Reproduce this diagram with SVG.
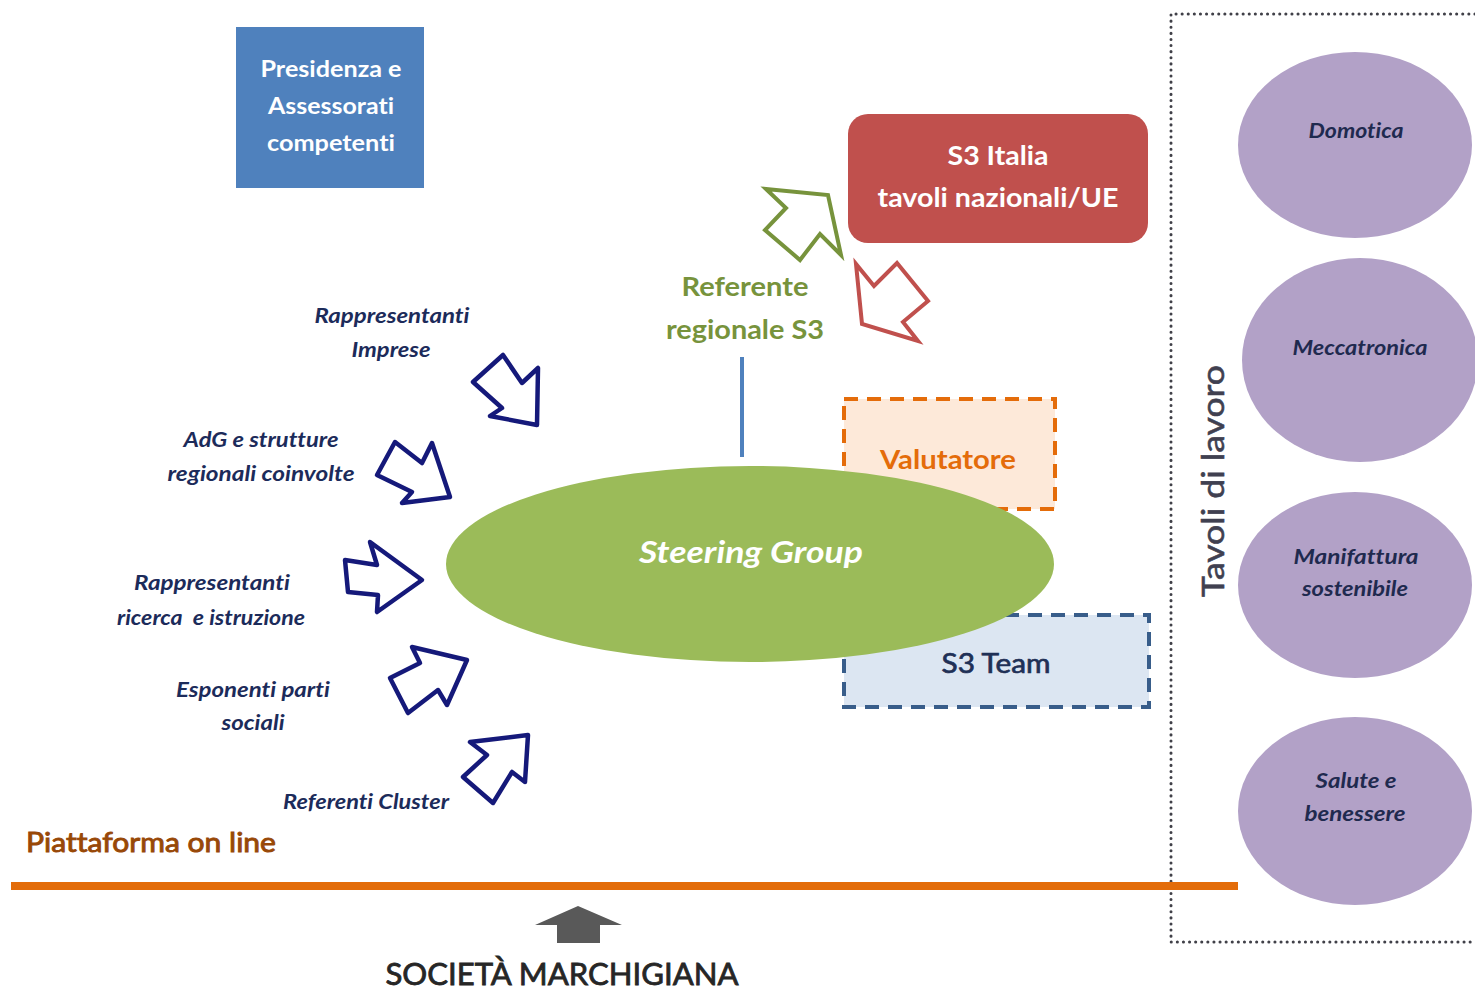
<svg xmlns="http://www.w3.org/2000/svg" width="1475" height="990" viewBox="0 0 1475 990">
<style>
text{font-family:Lato,"Open Sans","Liberation Sans",sans-serif;text-anchor:middle;font-variant-ligatures:none;font-feature-settings:"liga" 0}
.lbl{font-size:20px;font-weight:bold;font-style:italic;fill:#1c2b5a}
.tav{font-size:20px;font-weight:bold;font-style:italic;fill:#1f2a4f}
.purple{fill:#b2a1c7}
.barrow{fill:#fff;stroke:#15197a;stroke-width:4.5;stroke-linejoin:round}
</style>
<rect width="1475" height="990" fill="#fff"/>

<g id="presidenza">
<rect x="236" y="27" width="188" height="161" fill="#4f81bd"/>
<text x="331" y="77" font-size="22" font-weight="bold" fill="#fff" textLength="141" lengthAdjust="spacingAndGlyphs">Presidenza e</text>
<text x="331" y="114" font-size="22" font-weight="bold" fill="#fff" textLength="126" lengthAdjust="spacingAndGlyphs">Assessorati</text>
<text x="331" y="151" font-size="22" font-weight="bold" fill="#fff" textLength="128" lengthAdjust="spacingAndGlyphs">competenti</text>
</g>

<g id="s3italia">
<rect x="848" y="114" width="300" height="129" rx="20" fill="#c0504d"/>
<text x="998" y="165" font-size="27" font-weight="bold" fill="#fff" textLength="101" lengthAdjust="spacingAndGlyphs">S3 Italia</text>
<text x="998" y="207" font-size="27" font-weight="bold" fill="#fff" textLength="241" lengthAdjust="spacingAndGlyphs">tavoli nazionali/UE</text>
</g>

<g id="referente">
<text x="745" y="296" font-size="27" font-weight="bold" fill="#77933c" textLength="127" lengthAdjust="spacingAndGlyphs">Referente</text>
<text x="745" y="339" font-size="27" font-weight="bold" fill="#77933c" textLength="158" lengthAdjust="spacingAndGlyphs">regionale S3</text>
</g>

<g id="valutatore">
<rect x="844" y="399" width="211" height="110" fill="#fde9d9" stroke="#e46c0a" stroke-width="4" stroke-dasharray="14 9"/>
<text x="948" y="469" font-size="27" font-weight="bold" fill="#e46c0a" textLength="136" lengthAdjust="spacingAndGlyphs">Valutatore</text>
</g>

<g id="s3team">
<rect x="844" y="615" width="305" height="92" fill="#dce6f2" stroke="#385d8a" stroke-width="4" stroke-dasharray="14 9"/>
<text x="996" y="673" font-size="27" fill="#1f3056" stroke="#1f3056" stroke-width="0.7" textLength="109" lengthAdjust="spacingAndGlyphs">S3 Team</text>
</g>

<g id="steering">
<ellipse cx="750" cy="564" rx="304" ry="98" fill="#9bbb59"/>
<text x="751" y="563" font-size="30" font-weight="bold" font-style="italic" fill="#fff" textLength="224" lengthAdjust="spacingAndGlyphs">Steering Group</text>
</g>

<g id="labels">
<text class="lbl" x="392" y="323" textLength="155" lengthAdjust="spacingAndGlyphs">Rappresentanti</text>
<text class="lbl" x="391" y="357" textLength="79" lengthAdjust="spacingAndGlyphs">Imprese</text>
<text class="lbl" x="261" y="447" textLength="155" lengthAdjust="spacingAndGlyphs">AdG e strutture</text>
<text class="lbl" x="261" y="481" textLength="187" lengthAdjust="spacingAndGlyphs">regionali coinvolte</text>
<text class="lbl" x="212" y="590" textLength="156" lengthAdjust="spacingAndGlyphs">Rappresentanti</text>
<text class="lbl" x="211" y="625" textLength="188" lengthAdjust="spacingAndGlyphs" xml:space="preserve">ricerca  e istruzione</text>
<text class="lbl" x="253" y="697" textLength="154" lengthAdjust="spacingAndGlyphs">Esponenti parti</text>
<text class="lbl" x="253" y="730" textLength="63" lengthAdjust="spacingAndGlyphs">sociali</text>
<text class="lbl" x="366" y="809" textLength="166" lengthAdjust="spacingAndGlyphs">Referenti Cluster</text>
</g>

<g id="tavoli">
<path d="M1475 14 H1171 V942 H1475" fill="none" stroke="#404048" stroke-width="3" stroke-dasharray="0.1 6" stroke-linecap="round"/>
<text x="0" y="0" transform="translate(1224 481) rotate(-90)" font-size="31" fill="#404050" stroke="#404050" stroke-width="0.6" textLength="232" lengthAdjust="spacingAndGlyphs">Tavoli di lavoro</text>
</g>

<g id="domotica">
<ellipse class="purple" cx="1355" cy="145" rx="117" ry="93"/>
<text class="tav" x="1356" y="138" textLength="95" lengthAdjust="spacingAndGlyphs">Domotica</text>
</g>
<g id="meccatronica">
<ellipse class="purple" cx="1360" cy="360" rx="118" ry="102"/>
<text class="tav" x="1360" y="355" textLength="135" lengthAdjust="spacingAndGlyphs">Meccatronica</text>
</g>
<g id="manifattura">
<ellipse class="purple" cx="1355" cy="585" rx="117" ry="93"/>
<text class="tav" x="1356" y="564" textLength="125" lengthAdjust="spacingAndGlyphs">Manifattura</text>
<text class="tav" x="1355" y="596" textLength="106" lengthAdjust="spacingAndGlyphs">sostenibile</text>
</g>
<g id="salute">
<ellipse class="purple" cx="1355" cy="811" rx="117" ry="94"/>
<text class="tav" x="1356" y="788" textLength="81" lengthAdjust="spacingAndGlyphs">Salute e</text>
<text class="tav" x="1355" y="821" textLength="101" lengthAdjust="spacingAndGlyphs">benessere</text>
</g>

<g id="piattaforma">
<text x="26" y="852" font-size="27" fill="#984807" stroke="#984807" stroke-width="0.9" style="text-anchor:start" textLength="250" lengthAdjust="spacingAndGlyphs">Piattaforma on line</text>
<line x1="11" y1="886" x2="1238" y2="886" stroke="#e36c09" stroke-width="8"/>
</g>

<g id="societa">
<text x="562" y="985" font-size="30" fill="#262626" stroke="#262626" stroke-width="0.8" textLength="353" lengthAdjust="spacingAndGlyphs">SOCIETÀ MARCHIGIANA</text>
</g>

<g id="connectors">
<line x1="742" y1="357" x2="742" y2="457" stroke="#4f81bd" stroke-width="4"/>
<polygon points="766,189 828,195 841,255 820,234 800,260 765,230 786,208" fill="#fff" stroke="#77933c" stroke-width="4" stroke-linejoin="miter"/>
<polygon points="856,264 862,324 918,341 903,322 928,301 897,263 874,286" fill="#fff" stroke="#c0504d" stroke-width="4" stroke-linejoin="miter"/>
<polygon class="barrow" points="473,382 503,355 522,383 538,368 537,425 490,416 502,408"/>
<polygon class="barrow" points="377,475 395,442 422,463 432,443 450,497 402,503 412,492"/>
<polygon class="barrow" points="345,560 377,565 370,542 422,580 377,612 378,595 348,592"/>
<polygon class="barrow" points="390,678 420,663 412,647 467,660 447,705 438,690 408,713"/>
<polygon class="barrow" points="463,777 487,755 470,742 528,735 525,782 512,772 493,803"/>
<polygon points="535,925 578,906 622,925 600,925 600,943 557,943 557,925" fill="#595959"/>
</g>
</svg>
